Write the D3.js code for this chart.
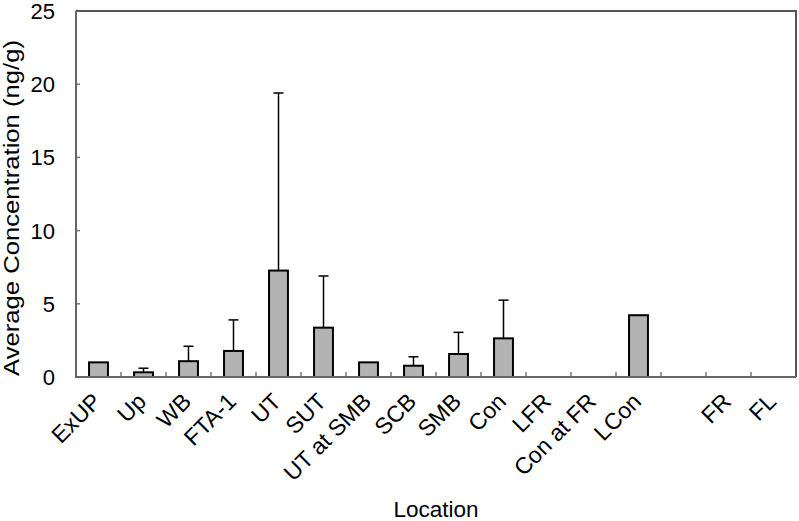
<!DOCTYPE html>
<html>
<meta charset='utf-8'>
<head>
<script src='https://cdn.jsdelivr.net/npm/d3@7'></script>
<style>
body { margin: 0; background: #fff; }
text { font-family: 'Liberation Sans', Arial, sans-serif; fill: #000; }
</style>
</head>
<body>
<div id='chart'></div>
<script>

// locations along the river (one empty slot between LCon and FR)
var locations = ['ExUP', 'Up', 'WB', 'FTA-1', 'UT', 'SUT', 'UT at SMB', 'SCB', 'SMB', 'Con', 'LFR', 'Con at FR', 'LCon', '', 'FR', 'FL']
var means = [1.0, 0.32, 1.08, 1.78, 7.27, 3.37, 1.0, 0.77, 1.57, 2.64, 0, 0, 4.22, null, 0, 0]
var upperErr = [null, 0.6, 2.1, 3.9, 19.4, 6.9, null, 1.38, 3.05, 5.25, null, null, null, null, null, null]
var yTicks = [0, 5, 10, 15, 20, 25]

var margin = {top: 11, right: 3, bottom: 144, left: 76},
    width = 799 - margin.left - margin.right,
    height = 521 - margin.top - margin.bottom;

var svg = d3.select('#chart')
    .append('svg')
    .attr('width', 799)
    .attr('height', 521)
    .append('g')
    .attr('transform', 'translate(' + margin.left + ',' + margin.top + ')')

var x = d3.scaleBand()
    .domain(d3.range(locations.length))
    .range([0, width])
    .paddingInner(0.58)
    .paddingOuter(0.29)

var step = width / locations.length

var y = d3.scaleLinear()
    .domain([0, 25])
    .range([height, 0])

// y ticks (inside)
svg.selectAll('.ytick')
    .data(yTicks)
    .enter()
    .append('line')
    .attr('x1', 0)
    .attr('x2', 4)
    .attr('y1', function(d) { return y(d) })
    .attr('y2', function(d) { return y(d) })
    .attr('stroke', '#777')
    .attr('stroke-width', 1.5)

svg.selectAll('.ylab')
    .data(yTicks)
    .enter()
    .append('text')
    .attr('x', -21)
    .attr('y', function(d) { return y(d) })
    .attr('dy', '0.36em')
    .attr('text-anchor', 'end')
    .attr('font-size', 22)
    .text(function(d) { return d })

// x ticks between categories (inside)
svg.selectAll('.xtick')
    .data(d3.range(1, locations.length))
    .enter()
    .append('line')
    .attr('x1', function(d) { return d * step })
    .attr('x2', function(d) { return d * step })
    .attr('y1', height)
    .attr('y2', height - 5)
    .attr('stroke', '#777')
    .attr('stroke-width', 1.5)

// bars
var data = locations.map(function(l, i) { return {i: i, name: l, v: means[i], e: upperErr[i]} })

svg.selectAll('.err')
    .data(data.filter(function(d) { return d.e != null }))
    .enter()
    .append('g')
    .each(function(d) {
        var cx = x(d.i) + x.bandwidth() / 2
        var g = d3.select(this)
        g.append('line')
            .attr('x1', cx).attr('x2', cx)
            .attr('y1', y(d.v)).attr('y2', y(d.e))
            .attr('stroke', '#000').attr('stroke-width', 1.5)
        g.append('line')
            .attr('x1', cx - 5).attr('x2', cx + 5)
            .attr('y1', y(d.e)).attr('y2', y(d.e))
            .attr('stroke', '#000').attr('stroke-width', 1.5)
    })

svg.selectAll('.bar')
    .data(data.filter(function(d) { return d.v > 0 }))
    .enter()
    .append('rect')
    .attr('x', function(d) { return x(d.i) })
    .attr('width', x.bandwidth())
    .attr('y', function(d) { return y(d.v) })
    .attr('height', function(d) { return height - y(d.v) })
    .attr('fill', '#b3b3b3')
    .attr('stroke', '#000')
    .attr('stroke-width', 2)

// frame
svg.append('path')
    .attr('d', 'M0,0H' + width + 'V' + height)
    .attr('fill', 'none')
    .attr('stroke', '#555')
    .attr('stroke-width', 2)
svg.append('path')
    .attr('d', 'M0,0V' + height + 'H' + width)
    .attr('fill', 'none')
    .attr('stroke', '#666')
    .attr('stroke-width', 2)

// category labels
svg.selectAll('.xlab')
    .data(data)
    .enter()
    .append('text')
    .attr('text-anchor', 'end')
    .attr('font-size', 23)
    .attr('transform', function(d) {
        return 'translate(' + (x(d.i) + x.bandwidth() / 2 + 4) + ',' + (height + 26) + ') rotate(-45)'
    })
    .text(function(d) { return d.name })

svg.append('text')
    .attr('x', width / 2)
    .attr('y', 506)
    .attr('text-anchor', 'middle')
    .attr('font-size', 22.5)
    .text('Location')

svg.append('text')
    .attr('transform', 'translate(-57.5,' + (height / 2 + 14) + ') rotate(-90)')
    .attr('text-anchor', 'middle')
    .attr('font-size', 22)
    .attr('textLength', 336)
    .attr('lengthAdjust', 'spacingAndGlyphs')
    .text('Average Concentration (ng/g)')

</script>
</body>
</html>
